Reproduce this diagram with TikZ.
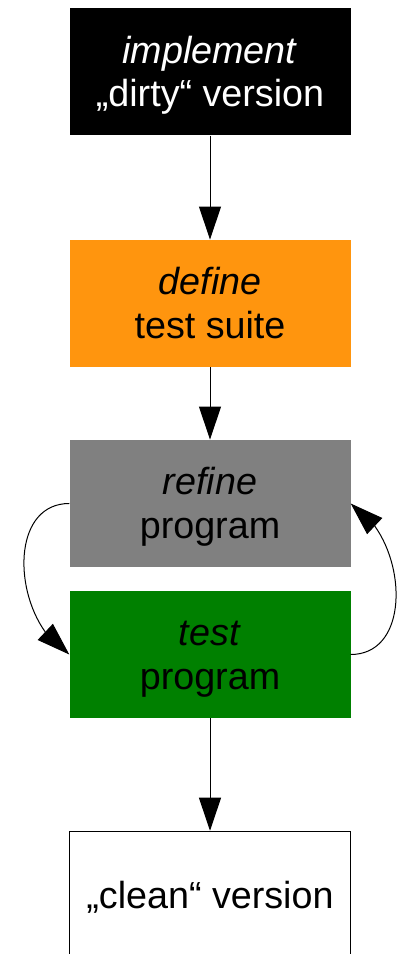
\documentclass[tikz,border=0pt]{standalone}
\usepackage{fontspec}
\setmainfont{Liberation Sans}
\usetikzlibrary{arrows.meta,bending}

% struts giving each text block the font's full ascent and descent
\newcommand\ascentstrut{\rule{0pt}{0.905em}}
\newcommand\descentstrut{\rule[-0.212em]{0pt}{0pt}}

\begin{document}
\begin{tikzpicture}[x=1pt,y=1pt,
  stage/.style={minimum width=281pt, minimum height=127.5pt, inner sep=0pt,
    align=center, font=\fontsize{37.7}{43.3}\selectfont},
  flowarrow/.style={line width=1pt, -{Triangle[length=33pt,width=22pt]}},
  backarc/.style={line width=1pt, -{Triangle[length=33pt,width=22pt,flex]}}]
\useasboundingbox (0,0) rectangle (403,954);

% process stages, top to bottom
\node[stage, fill=black, text=white] (impl) at (210,882.25)
  {\ascentstrut\textit{implement}\\„dirty“ version\descentstrut};
\node[stage, fill={rgb,255:red,255;green,149;blue,14}] (define) at (210,650.5)
  {\ascentstrut\textit{define}\\test suite\descentstrut};
\node[stage, fill={rgb,255:red,128;green,128;blue,128}] (refine) at (210,450.5)
  {\ascentstrut\textit{refine}\\program\descentstrut};
\node[stage, fill={rgb,255:red,0;green,128;blue,0}] (test) at (210,299.5)
  {\ascentstrut\textit{test}\\program\descentstrut};
\node[stage, draw=black, line width=1pt, fill=white] (clean) at (210,59)
  {\ascentstrut„clean“ version\descentstrut};

% straight flow
\draw[flowarrow] (impl.south) -- (define.north);
\draw[flowarrow] (define.south) -- (refine.north);
\draw[flowarrow] (test.south) -- (clean.north);

% refine/test cycle
\draw[backarc] (refine.west) to[out=180,in=150,looseness=1.1] (test.west);
\draw[backarc] (test.east) to[out=0,in=-30,looseness=1.1] (refine.east);
\end{tikzpicture}
\end{document}
